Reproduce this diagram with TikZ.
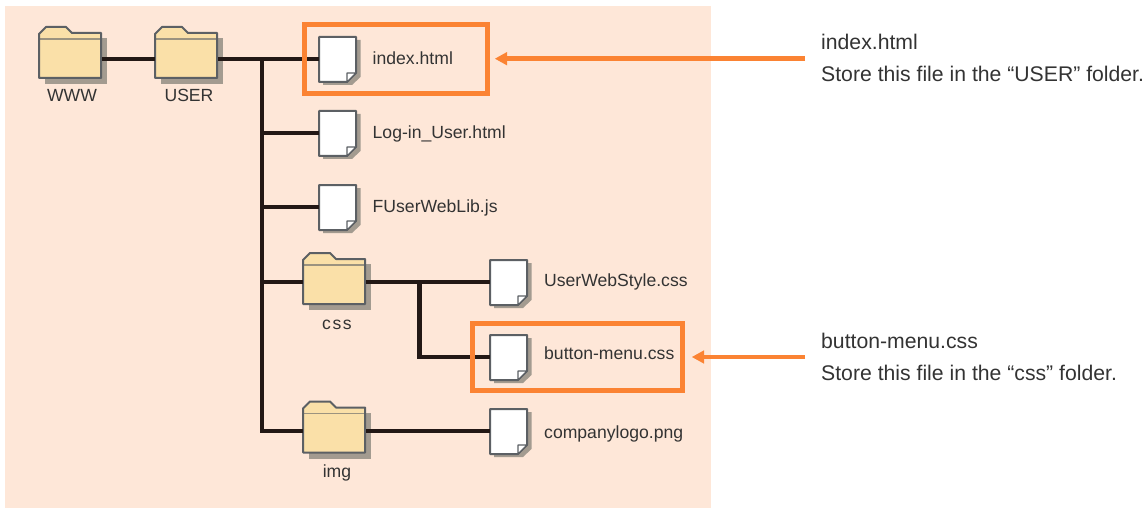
\documentclass[tikz,border=0pt]{standalone}
\usepackage{fontspec}
\setmainfont{Liberation Sans}
\definecolor{bgpeach}{HTML}{FEE7D8}
\definecolor{orangeline}{HTML}{FB8333}
\definecolor{folderfill}{HTML}{FAE0A8}
\definecolor{outlinegrey}{HTML}{5C6064}
\definecolor{shadowgrey}{HTML}{A39B90}
\definecolor{linkblack}{HTML}{231815}
\definecolor{labeltext}{HTML}{333333}
\tikzset{
  x=1pt,y=-1pt,
  link/.style={line width=4.5pt,draw=linkblack},
  callout/.style={line width=4.5pt,draw=orangeline},
  highlight/.style={line width=5pt,draw=orangeline,inner sep=0pt,anchor=north west},
  lbl/.style={font=\fontsize{17.6}{17.6}\selectfont,text=labeltext,inner sep=0pt,anchor=base},
  lbll/.style={lbl,anchor=base west},
  note/.style={font=\fontsize{21.2}{21.2}\selectfont,text=labeltext,inner sep=0pt,anchor=base west},
  tip/.style={fill=orangeline,draw=none},
  pics/folder/.style={code={
    \begin{scope}[shift={(0,#1)}]
    \fill[shadowgrey] (6,-21) rectangle (68,25);
    \filldraw[fill=folderfill,draw=outlinegrey,line width=2pt,line join=round]
      (0,-25) -- (7,-32) -- (27,-32) -- (33,-26) -- (62,-26) -- (62,19) -- (0,19) -- cycle;
    \draw[draw=outlinegrey,opacity=.6,line width=1.2pt] (1,-20) -- (61,-20);
    \end{scope}
    \node[inner sep=0pt,outer sep=0pt,minimum width=63pt,minimum height=40pt,anchor=west] (-box) at (0,0) {};
  }},
  pics/docfile/.style={code={
    \fill[shadowgrey] (4,-19) -- (41.5,-19) -- (41.5,18) -- (33,26) -- (4,26) -- cycle;
    \filldraw[fill=white,draw=outlinegrey,line width=2pt,line join=round]
      (0,-22) -- (37,-22) -- (37,14) -- (28,23) -- (0,23) -- cycle;
    \filldraw[fill=white,draw=outlinegrey,line width=1.2pt,line join=round]
      (37,14) -- (28,14) -- (28,23) -- cycle;
    \node[inner sep=0pt,outer sep=0pt,minimum width=37pt,minimum height=45pt,anchor=west] (-box) at (0,0) {};
  }}
}
\begin{document}
\begin{tikzpicture}
\useasboundingbox (0,0) rectangle (1146,508);
\fill[bgpeach] (5,6) rectangle (711,508);
\coordinate (trunk) at (262,59);
\coordinate (sub) at (419.7,282);
\pic (www) at (39,59) {folder={0}};
\pic (user) at (155,59) {folder={0}};
\pic (css) at (303,282) {folder={3}};
\pic (img) at (303,431) {folder={2.5}};
\pic (fa) at (319,59) {docfile};
\pic (fb) at (319,133) {docfile};
\pic (fc) at (319,207) {docfile};
\pic (fd) at (490,282) {docfile};
\pic (fe) at (490,357) {docfile};
\pic (ff) at (490,431) {docfile};
\draw[link] (www-box.east) -- (user-box.west);
\draw[link] (user-box.east) -- (fa-box.west);
\draw[link] (trunk) |- (img-box.west);
\draw[link] (trunk|-fb-box.west) -- (fb-box.west);
\draw[link] (trunk|-fc-box.west) -- (fc-box.west);
\draw[link] (trunk|-css-box.west) -- (css-box.west);
\draw[link] (css-box.east) -- (fd-box.west);
\draw[link] (sub) |- (fe-box.west);
\draw[link] (img-box.east) -- (ff-box.west);
\node[lbl] (lwww) at (72,101.5) {WWW};
\node[lbl] (luser) at (189,101.5) {USER};
\node[lbl] (lcss) at (337,329) {\addfontfeature{LetterSpace=9}css};
\node[lbl] (limg) at (337,477) {img};
\node[lbll] (la) at (372.5,64.5) {index.html};
\node[lbll] (lb) at (372.5,138.7) {Log-in\_User.html};
\node[lbll] (lc) at (372.5,212.3) {FUserWebLib.js};
\node[lbll] (ld) at (544,286.3) {UserWebStyle.css};
\node[lbll] (le) at (544,359.5) {button-menu.css};
\node[lbll] (lf) at (544,438.3) {companylogo.png};
\node[highlight,minimum width=183pt,minimum height=69pt] (ha) at (302,22) {};
\node[highlight,minimum width=209.7pt,minimum height=66.7pt] (hb) at (470,321) {};
\node[note] (na) at (821,49.3) {index.html};
\node[note] (nb) at (821,81.7) {Store this file in the “USER” folder.};
\node[note] (nc) at (821,348) {button-menu.css};
\node[note] (nd) at (821,380) {Store this file in the “css” folder.};
\coordinate (ca) at (805,58.7);
\coordinate (cb) at (805,357);
\coordinate (ta) at (495,58.7);
\coordinate (tb) at (692,357);
\draw[callout] (ca) -- ([xshift=8pt]ta);
\fill[tip] (ta) -- ++(12,-6.7) -- ++(0,13.4) -- cycle;
\draw[callout] (cb) -- ([xshift=8pt]tb);
\fill[tip] (tb) -- ++(12,-6.7) -- ++(0,13.4) -- cycle;
\end{tikzpicture}
\end{document}
